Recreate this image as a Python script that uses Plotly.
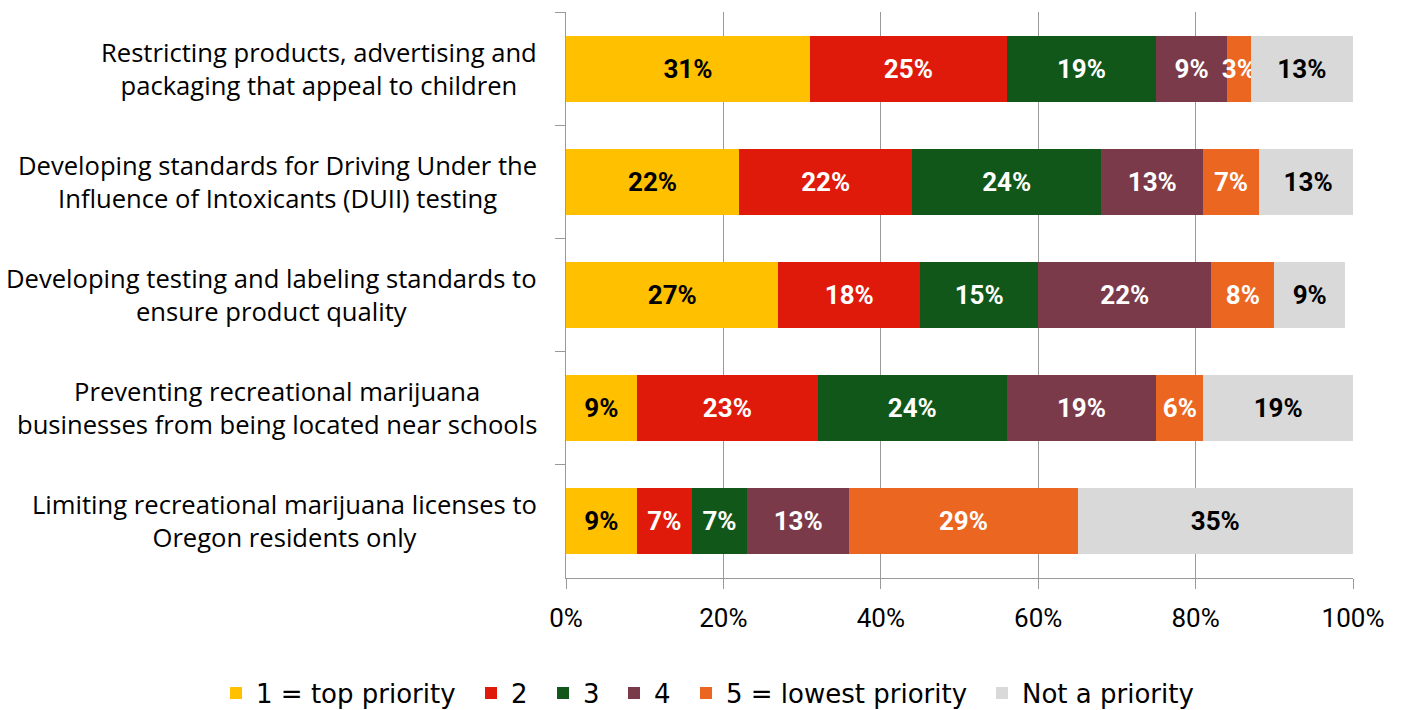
import plotly.graph_objects as go

categories = [
    "Restricting products, advertising and<br>packaging that appeal to children",
    "Developing standards for Driving Under the<br>Influence of Intoxicants (DUII) testing",
    "Developing testing and labeling standards to<br>ensure product quality",
    "Preventing recreational marijuana<br>businesses from being located near schools",
    "Limiting recreational marijuana licenses to<br>Oregon residents only",
]

series_names = ["1 = top priority", "2", "3", "4", "5 = lowest priority", "Not a priority"]

top_priority = [31, 22, 27, 9, 9]
priority_2 = [25, 22, 18, 23, 7]
priority_3 = [19, 24, 15, 24, 7]
priority_4 = [9, 13, 22, 19, 13]
lowest_priority = [3, 7, 8, 6, 29]
not_a_priority = [13, 12.6, 9, 19, 35]

series_values = [top_priority, priority_2, priority_3, priority_4, lowest_priority, not_a_priority]
colors = ["#FFC000", "#DF1A0B", "#115719", "#7B3A4A", "#EB6620", "#D9D9D9"]
text_colors = ["black", "white", "white", "white", "white", "black"]

x_ticks = [0, 20, 40, 60, 80, 100]
x_tick_labels = ["0%", "20%", "40%", "60%", "80%", "100%"]

# left edge of each legend entry, as a fraction of the plot width (paper coords)
legend_x = [-0.4447, -0.1207, -0.0292, 0.0610, 0.1525, 0.5286]
legend_ids = ["legend", "legend2", "legend3", "legend4", "legend5", "legend6"]

fig = go.Figure()
for name, vals, col, tcol, lid in zip(series_names, series_values, colors, text_colors, legend_ids):
    fig.add_trace(go.Bar(
        y=categories, x=vals, name=name, orientation="h",
        marker=dict(color=col, line=dict(width=0)),
        texttemplate="%{x:.0f}%", textposition="inside",
        insidetextanchor="middle", textangle=0,
        insidetextfont=dict(family="Roboto", size=26, color=tcol, weight="bold"),
        hoverinfo="skip", legend=lid,
    ))

for cat in categories:
    fig.add_annotation(
        x=0, xref="paper", xanchor="right", xshift=-27,
        y=cat, yref="y", yanchor="middle",
        text=cat, showarrow=False, align="center",
        font=dict(family="Open Sans", size=25.6, color="black"),
    )

legend_style = dict(
    orientation="h", xref="paper", yref="paper",
    xanchor="left", y=-0.2035, yanchor="middle",
    font=dict(family="DejaVu Sans", size=26, color="black"),
    traceorder="normal", itemclick=False, bgcolor="rgba(0,0,0,0)",
)
legends = {lid: dict(legend_style, x=lx) for lid, lx in zip(legend_ids, legend_x)}

fig.update_layout(
    barmode="stack",
    bargap=0.417,
    width=1405, height=710, autosize=False,
    margin=dict(l=566, r=52, t=12, b=132, autoexpand=False),
    plot_bgcolor="white", paper_bgcolor="white",
    uniformtext=dict(minsize=26, mode="show"),
    showlegend=True,
    **legends,
    xaxis=dict(
        range=[0, 100], tickmode="array", tickvals=x_ticks, ticktext=x_tick_labels,
        showgrid=True, gridcolor="#9a9a9a", gridwidth=1,
        showline=True, linecolor="#9a9a9a", linewidth=1,
        ticks="outside", ticklen=10, tickcolor="#9a9a9a",
        tickfont=dict(family="Roboto", size=26, color="black"),
        ticklabelstandoff=7, zeroline=False, fixedrange=True,
    ),
    yaxis=dict(
        autorange="reversed", showticklabels=False,
        showline=True, linecolor="#9a9a9a", linewidth=1,
        ticks="outside", ticklen=10, tickcolor="#9a9a9a",
        tickson="boundaries", showgrid=False, fixedrange=True,
    ),
)

fig.write_html("out.html")
